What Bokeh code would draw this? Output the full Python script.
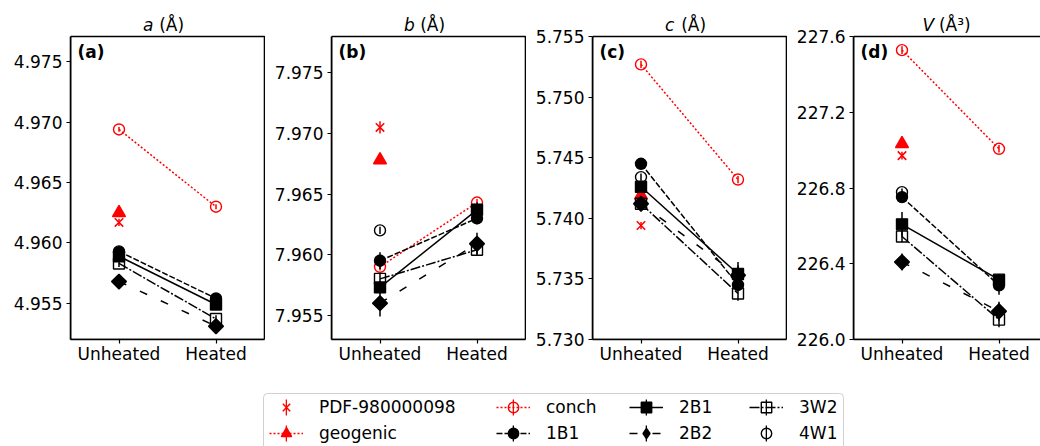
import math
from bokeh.plotting import figure
from bokeh.models import (Range1d, FixedTicker, PrintfTickFormatter, Label, Legend, LegendItem,
                          BoxAnnotation)
from bokeh.core.properties import value
from bokeh.layouts import row, column
from bokeh.embed import file_html
from bokeh.resources import INLINE

# ---------------- data ----------------
categories = ["Unheated", "Heated"]
samples = ["PDF-980000098", "geogenic", "conch", "1B1", "2B1", "2B2", "3W2", "4W1"]

a_values = {"PDF-980000098": [4.9617], "geogenic": [4.9625], "conch": [4.9694, 4.9630],
            "1B1": [4.9593, 4.9554], "2B1": [4.9589, 4.9549], "2B2": [4.9568, 4.9531],
            "3W2": [4.9583, 4.9537], "4W1": [4.9592]}
a_errors = {"PDF-980000098": [0.0003], "geogenic": [0.0003], "conch": [0.0002, 0.0002],
            "1B1": [0.0003, 0.0003], "2B1": [0.0003, 0.0003], "2B2": [0.0004, 0.0006],
            "3W2": [0.0003, 0.0003], "4W1": [0.0003]}

b_values = {"PDF-980000098": [7.9705], "geogenic": [7.9678], "conch": [7.9590, 7.9643],
            "1B1": [7.9595, 7.9630], "2B1": [7.9573, 7.9637], "2B2": [7.9560, 7.9609],
            "3W2": [7.9580, 7.9604], "4W1": [7.9620]}
b_errors = {"PDF-980000098": [0.0005], "geogenic": [0.0003], "conch": [0.0003, 0.0003],
            "1B1": [0.0007, 0.0005], "2B1": [0.0005, 0.0006], "2B2": [0.0011, 0.0009],
            "3W2": [0.0004, 0.0004], "4W1": [0.0003]}

c_values = {"PDF-980000098": [5.7394], "geogenic": [5.7419], "conch": [5.7527, 5.7432],
            "1B1": [5.7445, 5.7345], "2B1": [5.7426, 5.7354], "2B2": [5.7412, 5.7353],
            "3W2": [5.7412, 5.7338], "4W1": [5.7434]}
c_errors = {"PDF-980000098": [0.0003], "geogenic": [0.0003], "conch": [0.0003, 0.0003],
            "1B1": [0.0004, 0.0004], "2B1": [0.0005, 0.0010], "2B2": [0.0005, 0.0008],
            "3W2": [0.0004, 0.0006], "4W1": [0.0003]}

d_values = {"PDF-980000098": [226.971], "geogenic": [227.033], "conch": [227.528, 227.007],
            "1B1": [226.752, 226.286], "2B1": [226.608, 226.316], "2B2": [226.409, 226.149],
            "3W2": [226.544, 226.105], "4W1": [226.778]}
d_errors = {"PDF-980000098": [0.02], "geogenic": [0.02], "conch": [0.02, 0.02],
            "1B1": [0.02, 0.05], "2B1": [0.065, 0.03], "2B2": [0.045, 0.05],
            "3W2": [0.03, 0.04], "4W1": [0.02]}

a_ticks = [4.955, 4.960, 4.965, 4.970, 4.975]
b_ticks = [7.955, 7.960, 7.965, 7.970, 7.975]
c_ticks = [5.730, 5.735, 5.740, 5.745, 5.750, 5.755]
d_ticks = [226.0, 226.4, 226.8, 227.2, 227.6]

titles = [("a", " (Å)"), ("b", " (Å)"), ("c", " (Å)"), ("V", " (Å³)")]
tags = ["(a)", "(b)", "(c)", "(d)"]

# ---------------- styles / geometry ----------------
RED = "#ff0000"
BLACK = "#000000"
FONT = "DejaVu Sans"
FS = "17px"
BOX_TOP = 36      # px from the top of the page to the top of each axes box
BOX_H = 303       # axes box height in px
UNIT = 97.0       # px per category step
LEFTS = [70, 66, 66, 66]
WIDTHS = [195, 195, 195, 187]

styles = {
    "PDF-980000098": dict(color=RED, marker="x", lmarker="x", size=12, angle=0.0, fill=False, dash=None),
    "geogenic": dict(color=RED, marker="triangle", lmarker="triangle", size=13, angle=0.0, fill=True, dash="2 2"),
    "conch": dict(color=RED, marker="circle", lmarker="circle", size=11, angle=0.0, fill=False, dash="2 2"),
    "1B1": dict(color=BLACK, marker="circle", lmarker="circle", size=11, angle=0.0, fill=True, dash="6 2"),
    "2B1": dict(color=BLACK, marker="square", lmarker="square", size=11, angle=0.0, fill=True, dash="solid"),
    "2B2": dict(color=BLACK, marker="square", lmarker="diamond", size=10.5, angle=math.pi / 4, fill=True, dash="8 15"),
    "3W2": dict(color=BLACK, marker="square", lmarker="square", size=11, angle=0.0, fill=False, dash="10 2 2 2"),
    "4W1": dict(color=BLACK, marker="circle", lmarker="circle", size=11, angle=0.0, fill=False, dash=None),
}


def make_panel(vals, errs, ticks, fmt, yr, title, tag, fw, left):
    y0, y1 = yr
    y_end = y0 + (y1 - y0) * (BOX_TOP + BOX_H) / BOX_H
    p = figure(frame_width=fw, frame_height=BOX_TOP + BOX_H, x_range=Range1d(-0.5, -0.5 + fw / UNIT),
               y_range=Range1d(y0, y_end), output_backend="svg", toolbar_location=None,
               min_border_left=left, min_border_right=0, min_border_top=0,
               min_border_bottom=36, title=None, outline_line_color=None,
               background_fill_color="white", border_fill_color="white")
    p.xgrid.visible = False
    p.ygrid.visible = False
    for ax in (p.xaxis[0], p.yaxis[0]):
        ax.major_tick_out = 4
        ax.major_tick_in = 0
        ax.minor_tick_out = 0
        ax.minor_tick_in = 0
        ax.major_tick_line_color = BLACK
        ax.major_tick_line_width = 1.2
        ax.major_label_text_font = FONT
        ax.major_label_text_font_size = FS
        ax.major_label_text_color = BLACK
        ax.axis_line_color = BLACK
        ax.axis_line_width = 1.6
    p.yaxis.bounds = (y0, y1)
    p.yaxis.ticker = FixedTicker(ticks=ticks)
    p.yaxis.formatter = PrintfTickFormatter(format=fmt)
    p.yaxis.major_label_standoff = 4
    p.xaxis.bounds = (-0.5, 1.5)
    p.xaxis.ticker = FixedTicker(ticks=list(range(len(categories))))
    p.xaxis.major_label_overrides = {i: c for i, c in enumerate(categories)}
    p.xaxis.major_label_standoff = 0
    # the axes box (left and bottom sides come from the axis lines)
    p.add_layout(BoxAnnotation(left=-0.5, right=1.5, bottom=y0, top=y1, fill_color=None, fill_alpha=0,
                               line_color=BLACK, line_alpha=1.0, line_width=1.6))

    for name in samples:
        st = styles[name]
        y = vals[name]
        e = errs[name]
        x = list(range(len(y)))
        lo = [v - d for v, d in zip(y, e)]
        hi = [v + d for v, d in zip(y, e)]
        p.segment(x0=x, y0=lo, x1=x, y1=hi, line_color=st["color"], line_width=1.5)
        if st["dash"] is not None and len(y) > 1:
            p.line(x, y, line_color=st["color"], line_width=1.5, line_dash=st["dash"])
        p.scatter(x, y, marker=st["marker"], size=st["size"], angle=st["angle"],
                  line_color=st["color"], line_width=1.5 if st["marker"] == "x" else 1.4,
                  fill_color=st["color"] if st["fill"] else None)

    letter, rest = title
    half = 26 if letter == "V" else 22.5
    p.add_layout(Label(x=0.5, y=y1, text=letter, text_font=FONT, text_font_size=FS,
                       text_font_style="italic", text_color=BLACK, text_align="left",
                       text_baseline="alphabetic", x_offset=-half - 2, y_offset=11.5))
    p.add_layout(Label(x=0.5, y=y1, text=rest, text_font=FONT, text_font_size=FS,
                       text_color=BLACK, text_align="right", text_baseline="alphabetic",
                       x_offset=half - 0.5, y_offset=11.5))
    p.add_layout(Label(x=-0.5, y=y1, text=tag, text_font=FONT, text_font_size=FS,
                       text_font_style="bold", text_color=BLACK, text_align="left",
                       text_baseline="alphabetic", x_offset=7, y_offset=-15))
    return p


pa = make_panel(a_values, a_errors, a_ticks, "%.3f", (4.9520, 4.9771), titles[0], tags[0], WIDTHS[0], LEFTS[0])
pb = make_panel(b_values, b_errors, b_ticks, "%.3f", (7.9530, 7.9780), titles[1], tags[1], WIDTHS[1], LEFTS[1])
pc = make_panel(c_values, c_errors, c_ticks, "%.3f", (5.730, 5.755), titles[2], tags[2], WIDTHS[2], LEFTS[2])
pd_ = make_panel(d_values, d_errors, d_ticks, "%.1f", (226.0, 227.6), titles[3], tags[3], WIDTHS[3], LEFTS[3])

# ---------------- legend strip ----------------
pl = figure(width=1040, height=71, x_range=Range1d(0, 1040), y_range=Range1d(0, 71),
            output_backend="svg", toolbar_location=None, min_border=0, title=None,
            x_axis_location=None, y_axis_location=None, outline_line_color=None,
            background_fill_color="white", border_fill_color="white")
pl.xgrid.visible = False
pl.ygrid.visible = False
pl.add_layout(BoxAnnotation(left=263, right=843, bottom=-6, top=53, fill_color="white", fill_alpha=1,
                            line_color="#cccccc", line_alpha=0.9, line_width=1, border_radius=4))

items = {}
bar_items = {}
for name in samples:
    st = styles[name]
    y = a_values[name]
    x = list(range(len(y)))
    rs = []
    if st["dash"] is not None:
        rs.append(pl.line(x, y, line_color=st["color"], line_width=1.5, line_dash=st["dash"], visible=False))
    rs.append(pl.scatter(x, y, marker=st["lmarker"], size=st["size"],
                         line_color=st["color"], line_width=1.5 if st["marker"] == "x" else 1.4,
                         fill_color=st["color"] if st["fill"] else None, visible=False))
    items[name] = LegendItem(label=value(name), renderers=rs)
    vb = pl.vbar(x=x, top=y, width=0.01, fill_color=st["color"], line_color=None, visible=False)
    bar_items[name] = LegendItem(label=value(""), renderers=[vb])

col_x = [269, 496, 629, 749]
for ci in range(4):
    names = samples[2 * ci: 2 * ci + 2]
    ov = Legend(items=[bar_items[n] for n in names], location=(col_x[ci] + 16, 3), orientation="vertical",
                padding=0, margin=0, spacing=6, glyph_width=2, glyph_height=20, label_height=20,
                label_width=0, label_standoff=0, label_text_font_size="1px",
                border_line_color=None, background_fill_alpha=0)
    pl.add_layout(ov)
for ci in range(4):
    names = samples[2 * ci: 2 * ci + 2]
    lg = Legend(items=[items[n] for n in names], location=(col_x[ci], 0), orientation="vertical",
                padding=0, margin=0, spacing=0, glyph_width=34, glyph_height=26, label_height=26,
                label_standoff=16, label_text_font=FONT, label_text_font_size=FS,
                label_text_color=BLACK, border_line_color=None, background_fill_alpha=0)
    pl.add_layout(lg)

layout = column(row(pa, pb, pc, pd_), pl)
open("out.html", "w").write(file_html(layout, INLINE))
